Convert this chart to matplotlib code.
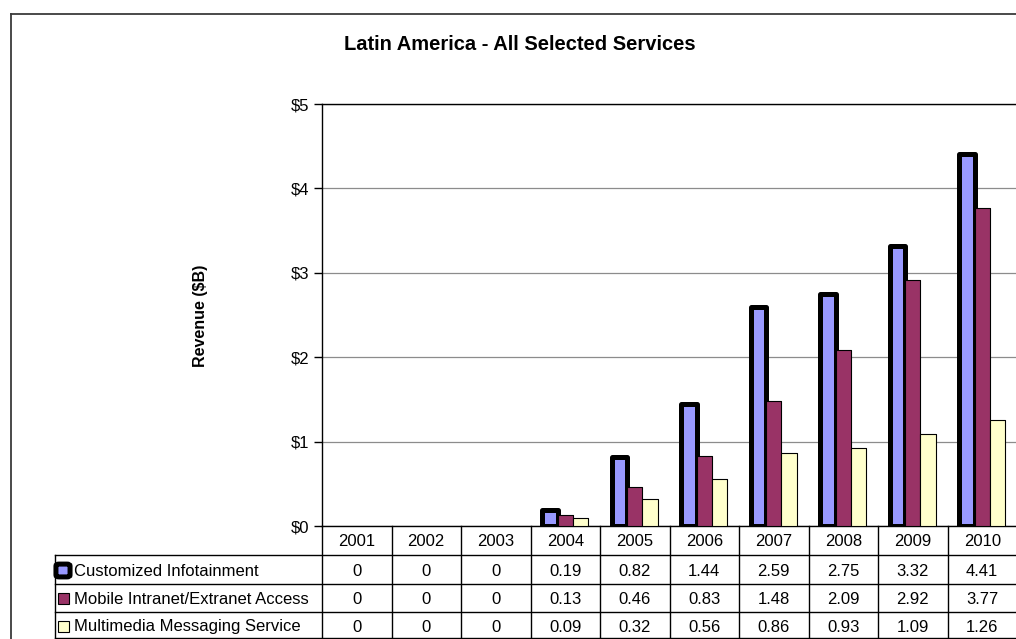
import matplotlib
matplotlib.use("Agg")
import matplotlib.pyplot as plt
from matplotlib.lines import Line2D
from matplotlib.patches import Rectangle, FancyBboxPatch
from matplotlib.transforms import blended_transform_factory

plt.rcParams['font.family'] = ['Liberation Sans', 'DejaVu Sans']

years = ['2001', '2002', '2003', '2004', '2005', '2006', '2007', '2008', '2009', '2010']
series_names = ['Customized Infotainment', 'Mobile Intranet/Extranet Access',
                'Multimedia Messaging Service']
infotainment = [0, 0, 0, 0.19, 0.82, 1.44, 2.59, 2.75, 3.32, 4.41]
intranet = [0, 0, 0, 0.13, 0.46, 0.83, 1.48, 2.09, 2.92, 3.77]
messaging = [0, 0, 0, 0.09, 0.32, 0.56, 0.86, 0.93, 1.09, 1.26]
y_ticks = [0, 1, 2, 3, 4, 5]
y_tick_labels = ['$0', '$1', '$2', '$3', '$4', '$5']

W, H = 1016, 639
fig = plt.figure(figsize=(W / 100, H / 100), dpi=100)
fig.patch.set_facecolor('white')


def fx(px):
    return px / W


def fy(py):
    return 1 - py / H


# plot area in pixel coordinates
left, right, top, bottom = 322, 1017, 104, 526
ax = fig.add_axes([fx(left), fy(bottom), fx(right - left), (bottom - top) / H])
ax.set_xlim(-0.5, len(years) - 0.5)
ax.set_ylim(0, 5)

colors = ['#9999FF', '#993366', '#FFFFCC']
bw = 1 / 4.5
xs = list(range(len(years)))

for vals, off, col, lw in [(infotainment, -bw, colors[0], 3.6),
                           (intranet, 0, colors[1], 0.8),
                           (messaging, bw, colors[2], 0.8)]:
    widths = [lw if v > 0 else 0 for v in vals]
    bars = ax.bar([x + off for x in xs], vals, width=bw, color=col,
                  edgecolor='black', linewidth=widths, zorder=3)
    for b in bars:
        b.set_joinstyle('round')

ax.set_yticks(y_ticks)
ax.set_yticklabels(y_tick_labels, fontsize=12)
ax.set_xticks([])
ax.tick_params(axis='y', direction='out', length=6, width=1, color='black', pad=3)
ax.grid(axis='y', color='#8c8c8c', linewidth=0.9, zorder=0)
for s in ['left', 'top', 'bottom']:
    ax.spines[s].set_color('black')
    ax.spines[s].set_linewidth(1.0)
ax.spines['right'].set_visible(False)
ax.set_axisbelow(True)

# title and axis label
fig.text(fx(519.5), fy(45), 'Latin America - All Selected Services',
         ha='center', va='center', fontsize=14.5, fontweight='bold')
fig.text(fx(200), fy(316), 'Revenue ($B)', ha='center', va='center',
         rotation=90, fontsize=11.5, fontweight='bold')

# outer frame
frame_kw = dict(color='#3a3a3a', linewidth=1.3, transform=fig.transFigure)
fig.add_artist(Line2D([fx(10.5), fx(10.5)], [0, fy(13.5)], **frame_kw))
fig.add_artist(Line2D([fx(10.5), 1.0], [fy(13.5), fy(13.5)], **frame_kw))

# data table below the plot
tr = blended_transform_factory(ax.transData, fig.transFigure)
row_y = [526, 555, 584, 612, 639]
line_kw = dict(color='black', linewidth=1.0)

for ry in row_y[1:4]:
    fig.add_artist(Line2D([fx(55), 1.0], [fy(ry), fy(ry)], **line_kw,
                          transform=fig.transFigure))
fig.add_artist(Line2D([fx(55), 1.0], [fy(637.5), fy(637.5)], **line_kw,
                      transform=fig.transFigure))
fig.add_artist(Line2D([fx(55), fx(55)], [fy(555), fy(638)], **line_kw,
                      transform=fig.transFigure))
for i in range(len(years) + 1):
    fig.add_artist(Line2D([i - 0.5, i - 0.5], [fy(526), fy(638)], **line_kw,
                          transform=tr))

def cell_text(v):
    return '0' if v == 0 else f'{v:.2f}'

for i, yr in enumerate(years):
    fig.text(i, fy(541.5), yr, transform=tr,
             ha='center', va='center', fontsize=12)
    for r, vals in enumerate([infotainment, intranet, messaging]):
        yc = (row_y[r + 1] + row_y[r + 2]) / 2 + 1.5
        fig.text(i, fy(yc), cell_text(vals[i]), transform=tr,
                 ha='center', va='center', fontsize=12)

# legend keys and series names
for r, name in enumerate(series_names):
    yc = (row_y[r + 1] + row_y[r + 2]) / 2
    if r == 0:
        key = FancyBboxPatch((fx(59), fy(yc + 5.5)), fx(8), 9 / H,
                             boxstyle='round,pad=0.003', facecolor=colors[0],
                             edgecolor='black', linewidth=3.6,
                             transform=fig.transFigure)
    else:
        key = Rectangle((fx(58), fy(yc + 6)), fx(11), 11 / H,
                        facecolor=colors[r], edgecolor='black', linewidth=0.8,
                        transform=fig.transFigure)
    fig.add_artist(key)
    fig.text(fx(73.5), fy(yc + 1.5), name, ha='left', va='center', fontsize=12)

fig.savefig('out.png', dpi=100)
